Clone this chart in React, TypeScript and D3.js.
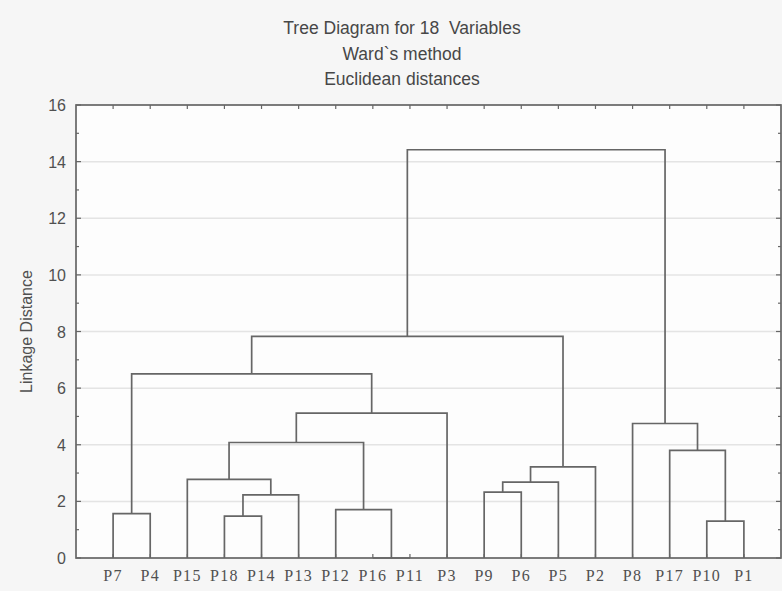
import * as d3 from "d3";
import React, { useRef, useEffect } from "react";

const titleLines = ["Tree Diagram for 18  Variables", "Ward`s method", "Euclidean distances"];
const yLabel = "Linkage Distance";

// leaf order along the x axis
const leafLabels = ["P7", "P4", "P15", "P18", "P14", "P13", "P12", "P16", "P11", "P3", "P9", "P6", "P5", "P2", "P8", "P17", "P10", "P1"];

// hclust style merges: a string is a leaf, a number points to an earlier merge
const mergeLeft: (string | number)[] = ["P16", "P10", "P18", "P7", "P12", 2, "P9", 6, "P15", 7, "P17", 8, "P8", 11, 3, 14, 15];
const mergeRight: (string | number)[] = ["P11", "P1", "P14", "P4", 0, "P13", "P6", "P5", 5, "P2", 1, 4, 10, "P3", 13, 9, 12];
const mergeHeight = [0, 1.3, 1.48, 1.57, 1.71, 2.23, 2.33, 2.68, 2.78, 3.22, 3.8, 4.08, 4.75, 5.12, 6.5, 7.83, 14.42];

const yTicks = [0, 2, 4, 6, 8, 10, 12, 14, 16];
const yMinorTicks = [1, 3, 5, 7, 9, 11, 13, 15];

function App() {
  const ref = useRef<SVGSVGElement>(null);
  const width = 782;
  const height = 591;

  useEffect(() => {
    const svg = d3.select(ref.current);
    svg.selectAll("*").remove();

    const left = 76, right = 781, top = 105, bottom = 558;
    const lineColor = "#666666";
    const textColor = "#505050";

    const x = d3.scalePoint<string>().domain(leafLabels).range([left, right]).padding(1);
    const y = d3.scaleLinear().domain([0, 16]).range([bottom, top]);

    svg.append("rect").attr("width", width).attr("height", height).attr("fill", "#f6f6f6");
    svg.append("rect")
      .attr("x", left).attr("y", top)
      .attr("width", right - left).attr("height", bottom - top)
      .attr("fill", "#fdfdfd");

    // title
    svg.append("g").selectAll("text").data(titleLines).enter().append("text")
      .attr("x", 402)
      .attr("y", (d, i) => 34 + i * 25.5)
      .attr("text-anchor", "middle")
      .attr("font-family", "Arial, 'Liberation Sans', sans-serif")
      .attr("font-size", 17.5)
      .attr("fill", "#474747")
      .style("white-space", "pre")
      .text(d => d);

    // grid
    svg.append("g").selectAll("line").data(yTicks.slice(1, -1)).enter().append("line")
      .attr("x1", left).attr("x2", right)
      .attr("y1", d => y(d)).attr("y2", d => y(d))
      .attr("stroke", "#e4e4e4").attr("stroke-width", 1.5);

    // minor + major ticks on left & right sides
    const tickG = svg.append("g").attr("stroke", lineColor).attr("stroke-width", 1.2);
    yMinorTicks.forEach(v => {
      tickG.append("line").attr("x1", left).attr("x2", left + 3).attr("y1", y(v)).attr("y2", y(v));
      tickG.append("line").attr("x1", right).attr("x2", right - 3).attr("y1", y(v)).attr("y2", y(v));
    });
    yTicks.forEach(v => {
      tickG.append("line").attr("x1", left).attr("x2", left + 5).attr("y1", y(v)).attr("y2", y(v));
      tickG.append("line").attr("x1", right).attr("x2", right - 5).attr("y1", y(v)).attr("y2", y(v));
    });
    leafLabels.forEach(l => {
      tickG.append("line").attr("x1", x(l)!).attr("x2", x(l)!).attr("y1", top).attr("y2", top + 4);
      tickG.append("line").attr("x1", x(l)!).attr("x2", x(l)!).attr("y1", bottom).attr("y2", bottom - 4);
    });

    // dendrogram links
    const nodeX: number[] = [];
    const pos = (r: string | number) =>
      typeof r === "number" ? { px: nodeX[r], h: mergeHeight[r] } : { px: x(r)!, h: 0 };

    const links = svg.append("g")
      .attr("fill", "none")
      .attr("stroke", lineColor)
      .attr("stroke-width", 1.7);

    mergeHeight.forEach((h, i) => {
      const a = pos(mergeLeft[i]);
      const b = pos(mergeRight[i]);
      nodeX[i] = (a.px + b.px) / 2;
      const p = d3.path();
      p.moveTo(a.px, y(a.h));
      p.lineTo(a.px, y(h));
      p.lineTo(b.px, y(h));
      p.lineTo(b.px, y(b.h));
      links.append("path").attr("d", p.toString());
    });

    // frame
    svg.append("rect")
      .attr("x", left).attr("y", top)
      .attr("width", right - left).attr("height", bottom - top)
      .attr("fill", "none")
      .attr("stroke", lineColor)
      .attr("stroke-width", 1.7);

    // y tick labels
    svg.append("g").selectAll("text").data(yTicks).enter().append("text")
      .attr("x", 66)
      .attr("y", d => y(d) + 6)
      .attr("text-anchor", "end")
      .attr("font-family", "Arial, 'Liberation Sans', sans-serif")
      .attr("font-size", 16)
      .attr("fill", textColor)
      .text(d => d);

    // y axis title
    svg.append("text")
      .attr("transform", "translate(32," + (bottom + top) / 2 + ") rotate(-90)")
      .attr("text-anchor", "middle")
      .attr("font-family", "Arial, 'Liberation Sans', sans-serif")
      .attr("font-size", 16)
      .attr("fill", textColor)
      .text(yLabel);

    // leaf labels
    svg.append("g").selectAll("text").data(leafLabels).enter().append("text")
      .attr("x", d => x(d)!)
      .attr("y", 581)
      .attr("text-anchor", "middle")
      .attr("font-family", "'Liberation Serif', 'DejaVu Serif', serif")
      .attr("font-size", 16)
      .attr("letter-spacing", 1.3)
      .attr("fill", textColor)
      .text(d => d);
  }, []);

  return (
    <svg ref={ref} width={width} height={height}
      style={{ position: "absolute", left: 0, top: 0, display: "block" }} />
  );
}

export default App;
